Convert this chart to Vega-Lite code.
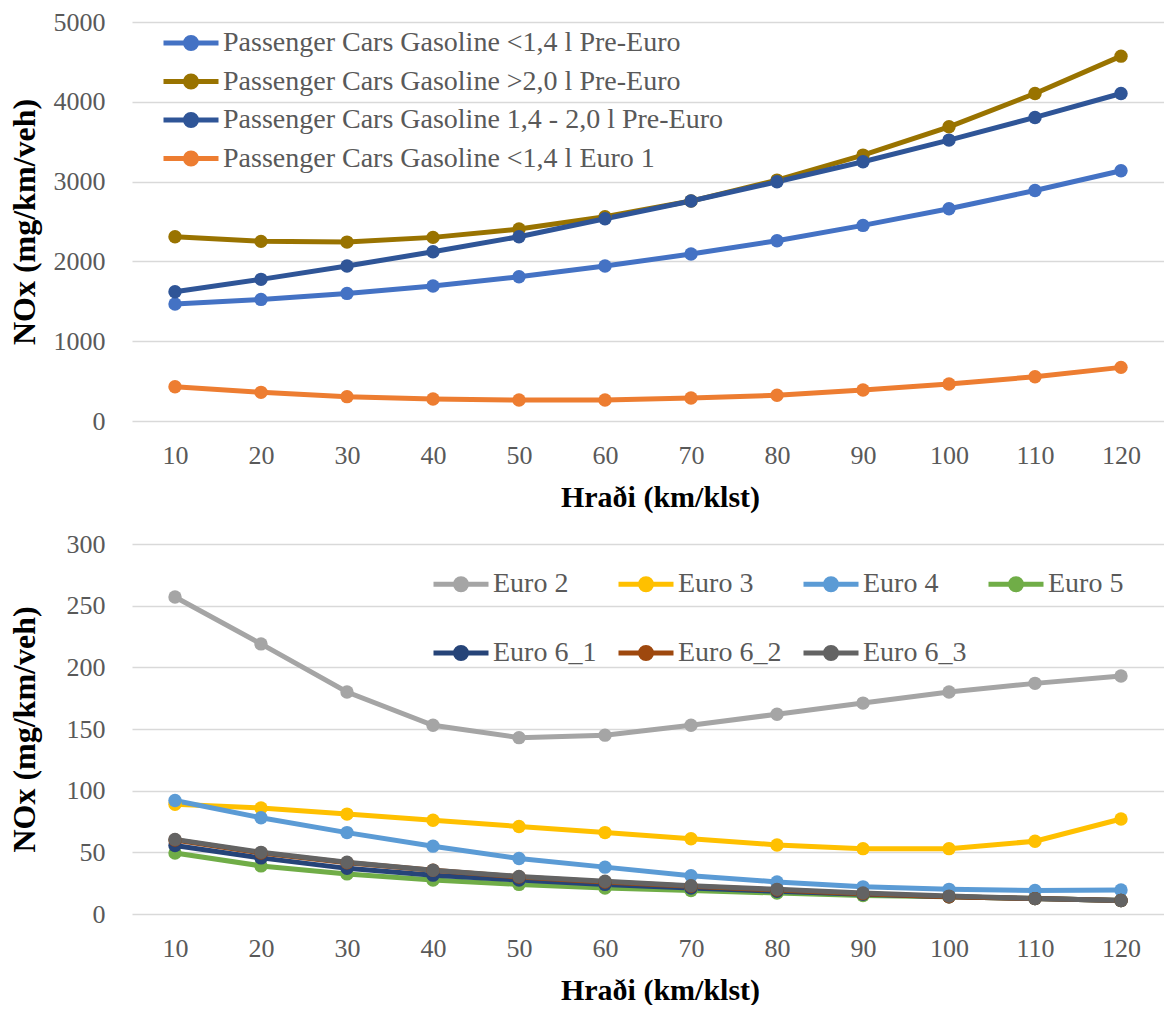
{
  "$schema": "https://vega.github.io/schema/vega-lite/v6.json",
  "padding": {"left": 8, "top": 9, "right": 0, "bottom": 0},
  "spacing": 19,
  "background": "white",
  "config": {
    "view": {"stroke": null},
    "font": "Liberation Serif",
    "axis": {
      "labelFont": "Liberation Serif",
      "labelFontSize": 26,
      "labelColor": "#595959",
      "titleFont": "Liberation Serif",
      "titleFontSize": 30,
      "titleFontWeight": "bold",
      "titleColor": "#000000",
      "ticks": false,
      "tickSize": 0,
      "domain": false,
      "format": "d"
    },
    "axisX": {"grid": false, "labelAngle": 0, "labelPadding": 21, "titlePadding": 14, "titleX": 528},
    "axisY": {"grid": true, "gridColor": "#D9D9D9", "gridWidth": 1.5, "labelPadding": 27, "titlePadding": 12, "minExtent": 79, "titleFontSize": 32},
    "legend": {
      "labelFont": "Liberation Serif",
      "labelFontSize": 28,
      "labelColor": "#595959",
      "symbolType": "M-1.25,0L4.25,0M0.95,0A0.55,0.55 0 1,0 2.05,0A0.55,0.55 0 1,0 0.95,0M1.17,0A0.33,0.33 0 1,0 1.83,0A0.33,0.33 0 1,0 1.17,0M1.39,0A0.11,0.11 0 1,0 1.61,0A0.11,0.11 0 1,0 1.39,0",
      "symbolSize": 400,
      "symbolStrokeWidth": 5,
      "labelOffset": 33,
      "title": null,
      "orient": "none",
      "labelLimit": 700
    }
  },
  "datasets": {
    "top": [
      {"speed": 10, "series": "Passenger Cars Gasoline <1,4 l Pre-Euro", "nox": 1466},
      {"speed": 20, "series": "Passenger Cars Gasoline <1,4 l Pre-Euro", "nox": 1524},
      {"speed": 30, "series": "Passenger Cars Gasoline <1,4 l Pre-Euro", "nox": 1599},
      {"speed": 40, "series": "Passenger Cars Gasoline <1,4 l Pre-Euro", "nox": 1691},
      {"speed": 50, "series": "Passenger Cars Gasoline <1,4 l Pre-Euro", "nox": 1808},
      {"speed": 60, "series": "Passenger Cars Gasoline <1,4 l Pre-Euro", "nox": 1942},
      {"speed": 70, "series": "Passenger Cars Gasoline <1,4 l Pre-Euro", "nox": 2092},
      {"speed": 80, "series": "Passenger Cars Gasoline <1,4 l Pre-Euro", "nox": 2259},
      {"speed": 90, "series": "Passenger Cars Gasoline <1,4 l Pre-Euro", "nox": 2451},
      {"speed": 100, "series": "Passenger Cars Gasoline <1,4 l Pre-Euro", "nox": 2660},
      {"speed": 110, "series": "Passenger Cars Gasoline <1,4 l Pre-Euro", "nox": 2889},
      {"speed": 120, "series": "Passenger Cars Gasoline <1,4 l Pre-Euro", "nox": 3136},
      {"speed": 10, "series": "Passenger Cars Gasoline >2,0 l Pre-Euro", "nox": 2309},
      {"speed": 20, "series": "Passenger Cars Gasoline >2,0 l Pre-Euro", "nox": 2251},
      {"speed": 30, "series": "Passenger Cars Gasoline >2,0 l Pre-Euro", "nox": 2242},
      {"speed": 40, "series": "Passenger Cars Gasoline >2,0 l Pre-Euro", "nox": 2301},
      {"speed": 50, "series": "Passenger Cars Gasoline >2,0 l Pre-Euro", "nox": 2405},
      {"speed": 60, "series": "Passenger Cars Gasoline >2,0 l Pre-Euro", "nox": 2559},
      {"speed": 70, "series": "Passenger Cars Gasoline >2,0 l Pre-Euro", "nox": 2756},
      {"speed": 80, "series": "Passenger Cars Gasoline >2,0 l Pre-Euro", "nox": 3019},
      {"speed": 90, "series": "Passenger Cars Gasoline >2,0 l Pre-Euro", "nox": 3332},
      {"speed": 100, "series": "Passenger Cars Gasoline >2,0 l Pre-Euro", "nox": 3687},
      {"speed": 110, "series": "Passenger Cars Gasoline >2,0 l Pre-Euro", "nox": 4104},
      {"speed": 120, "series": "Passenger Cars Gasoline >2,0 l Pre-Euro", "nox": 4572},
      {"speed": 10, "series": "Passenger Cars Gasoline 1,4 - 2,0 l Pre-Euro", "nox": 1620},
      {"speed": 20, "series": "Passenger Cars Gasoline 1,4 - 2,0 l Pre-Euro", "nox": 1775},
      {"speed": 30, "series": "Passenger Cars Gasoline 1,4 - 2,0 l Pre-Euro", "nox": 1942},
      {"speed": 40, "series": "Passenger Cars Gasoline 1,4 - 2,0 l Pre-Euro", "nox": 2121},
      {"speed": 50, "series": "Passenger Cars Gasoline 1,4 - 2,0 l Pre-Euro", "nox": 2309},
      {"speed": 60, "series": "Passenger Cars Gasoline 1,4 - 2,0 l Pre-Euro", "nox": 2534},
      {"speed": 70, "series": "Passenger Cars Gasoline 1,4 - 2,0 l Pre-Euro", "nox": 2756},
      {"speed": 80, "series": "Passenger Cars Gasoline 1,4 - 2,0 l Pre-Euro", "nox": 2998},
      {"speed": 90, "series": "Passenger Cars Gasoline 1,4 - 2,0 l Pre-Euro", "nox": 3248},
      {"speed": 100, "series": "Passenger Cars Gasoline 1,4 - 2,0 l Pre-Euro", "nox": 3520},
      {"speed": 110, "series": "Passenger Cars Gasoline 1,4 - 2,0 l Pre-Euro", "nox": 3804},
      {"speed": 120, "series": "Passenger Cars Gasoline 1,4 - 2,0 l Pre-Euro", "nox": 4104},
      {"speed": 10, "series": "Passenger Cars Gasoline <1,4 l Euro 1", "nox": 430},
      {"speed": 20, "series": "Passenger Cars Gasoline <1,4 l Euro 1", "nox": 359},
      {"speed": 30, "series": "Passenger Cars Gasoline <1,4 l Euro 1", "nox": 305},
      {"speed": 40, "series": "Passenger Cars Gasoline <1,4 l Euro 1", "nox": 276},
      {"speed": 50, "series": "Passenger Cars Gasoline <1,4 l Euro 1", "nox": 263},
      {"speed": 60, "series": "Passenger Cars Gasoline <1,4 l Euro 1", "nox": 263},
      {"speed": 70, "series": "Passenger Cars Gasoline <1,4 l Euro 1", "nox": 288},
      {"speed": 80, "series": "Passenger Cars Gasoline <1,4 l Euro 1", "nox": 322},
      {"speed": 90, "series": "Passenger Cars Gasoline <1,4 l Euro 1", "nox": 388},
      {"speed": 100, "series": "Passenger Cars Gasoline <1,4 l Euro 1", "nox": 463},
      {"speed": 110, "series": "Passenger Cars Gasoline <1,4 l Euro 1", "nox": 555},
      {"speed": 120, "series": "Passenger Cars Gasoline <1,4 l Euro 1", "nox": 672}
    ],
    "bottom": [
      {"speed": 10, "series": "Euro 2", "nox": 257},
      {"speed": 20, "series": "Euro 2", "nox": 219},
      {"speed": 30, "series": "Euro 2", "nox": 180},
      {"speed": 40, "series": "Euro 2", "nox": 153},
      {"speed": 50, "series": "Euro 2", "nox": 143},
      {"speed": 60, "series": "Euro 2", "nox": 145},
      {"speed": 70, "series": "Euro 2", "nox": 153},
      {"speed": 80, "series": "Euro 2", "nox": 162},
      {"speed": 90, "series": "Euro 2", "nox": 171},
      {"speed": 100, "series": "Euro 2", "nox": 180},
      {"speed": 110, "series": "Euro 2", "nox": 187},
      {"speed": 120, "series": "Euro 2", "nox": 193},
      {"speed": 10, "series": "Euro 3", "nox": 89},
      {"speed": 20, "series": "Euro 3", "nox": 86},
      {"speed": 30, "series": "Euro 3", "nox": 81},
      {"speed": 40, "series": "Euro 3", "nox": 76},
      {"speed": 50, "series": "Euro 3", "nox": 71},
      {"speed": 60, "series": "Euro 3", "nox": 66},
      {"speed": 70, "series": "Euro 3", "nox": 61},
      {"speed": 80, "series": "Euro 3", "nox": 56},
      {"speed": 90, "series": "Euro 3", "nox": 53},
      {"speed": 100, "series": "Euro 3", "nox": 53},
      {"speed": 110, "series": "Euro 3", "nox": 59},
      {"speed": 120, "series": "Euro 3", "nox": 77},
      {"speed": 10, "series": "Euro 4", "nox": 92},
      {"speed": 20, "series": "Euro 4", "nox": 78},
      {"speed": 30, "series": "Euro 4", "nox": 66},
      {"speed": 40, "series": "Euro 4", "nox": 55},
      {"speed": 50, "series": "Euro 4", "nox": 45},
      {"speed": 60, "series": "Euro 4", "nox": 38},
      {"speed": 70, "series": "Euro 4", "nox": 31},
      {"speed": 80, "series": "Euro 4", "nox": 26},
      {"speed": 90, "series": "Euro 4", "nox": 22},
      {"speed": 100, "series": "Euro 4", "nox": 20},
      {"speed": 110, "series": "Euro 4", "nox": 19},
      {"speed": 120, "series": "Euro 4", "nox": 19.5},
      {"speed": 10, "series": "Euro 5", "nox": 49.5},
      {"speed": 20, "series": "Euro 5", "nox": 39},
      {"speed": 30, "series": "Euro 5", "nox": 32.5},
      {"speed": 40, "series": "Euro 5", "nox": 27.5},
      {"speed": 50, "series": "Euro 5", "nox": 24},
      {"speed": 60, "series": "Euro 5", "nox": 21},
      {"speed": 70, "series": "Euro 5", "nox": 19},
      {"speed": 80, "series": "Euro 5", "nox": 17},
      {"speed": 90, "series": "Euro 5", "nox": 15},
      {"speed": 100, "series": "Euro 5", "nox": 14},
      {"speed": 110, "series": "Euro 5", "nox": 12.5},
      {"speed": 120, "series": "Euro 5", "nox": 11},
      {"speed": 10, "series": "Euro 6_1", "nox": 55.5},
      {"speed": 20, "series": "Euro 6_1", "nox": 45.5},
      {"speed": 30, "series": "Euro 6_1", "nox": 37},
      {"speed": 40, "series": "Euro 6_1", "nox": 31.5},
      {"speed": 50, "series": "Euro 6_1", "nox": 27.5},
      {"speed": 60, "series": "Euro 6_1", "nox": 24},
      {"speed": 70, "series": "Euro 6_1", "nox": 21},
      {"speed": 80, "series": "Euro 6_1", "nox": 18.5},
      {"speed": 90, "series": "Euro 6_1", "nox": 16},
      {"speed": 100, "series": "Euro 6_1", "nox": 14},
      {"speed": 110, "series": "Euro 6_1", "nox": 12.5},
      {"speed": 120, "series": "Euro 6_1", "nox": 11},
      {"speed": 10, "series": "Euro 6_2", "nox": 60},
      {"speed": 20, "series": "Euro 6_2", "nox": 49.5},
      {"speed": 30, "series": "Euro 6_2", "nox": 41.5},
      {"speed": 40, "series": "Euro 6_2", "nox": 35.5},
      {"speed": 50, "series": "Euro 6_2", "nox": 30},
      {"speed": 60, "series": "Euro 6_2", "nox": 26},
      {"speed": 70, "series": "Euro 6_2", "nox": 22.5},
      {"speed": 80, "series": "Euro 6_2", "nox": 19.5},
      {"speed": 90, "series": "Euro 6_2", "nox": 16.5},
      {"speed": 100, "series": "Euro 6_2", "nox": 14},
      {"speed": 110, "series": "Euro 6_2", "nox": 12.5},
      {"speed": 120, "series": "Euro 6_2", "nox": 11},
      {"speed": 10, "series": "Euro 6_3", "nox": 60.5},
      {"speed": 20, "series": "Euro 6_3", "nox": 50},
      {"speed": 30, "series": "Euro 6_3", "nox": 42},
      {"speed": 40, "series": "Euro 6_3", "nox": 35.5},
      {"speed": 50, "series": "Euro 6_3", "nox": 30.5},
      {"speed": 60, "series": "Euro 6_3", "nox": 26.5},
      {"speed": 70, "series": "Euro 6_3", "nox": 23},
      {"speed": 80, "series": "Euro 6_3", "nox": 20},
      {"speed": 90, "series": "Euro 6_3", "nox": 17},
      {"speed": 100, "series": "Euro 6_3", "nox": 14.5},
      {"speed": 110, "series": "Euro 6_3", "nox": 12.5},
      {"speed": 120, "series": "Euro 6_3", "nox": 11}
    ]
  },
  "vconcat": [
    {
      "width": 1032,
      "height": 399,
      "data": {"name": "top"},
      "mark": {"type": "line", "strokeWidth": 5, "point": {"filled": true, "size": 180}},
      "encoding": {
        "x": {"field": "speed", "type": "ordinal", "title": "Hraði (km/klst)", "scale": {"type": "point", "padding": 0.5}},
        "y": {"field": "nox", "type": "quantitative", "title": "NOx (mg/km/veh)", "scale": {"domain": [0, 5000]}, "axis": {"values": [0, 1000, 2000, 3000, 4000, 5000]}},
        "color": {
          "field": "series", "type": "nominal",
          "scale": {
            "domain": ["Passenger Cars Gasoline <1,4 l Pre-Euro", "Passenger Cars Gasoline >2,0 l Pre-Euro", "Passenger Cars Gasoline 1,4 - 2,0 l Pre-Euro", "Passenger Cars Gasoline <1,4 l Euro 1"],
            "range": ["#4472C4", "#997300", "#2F5597", "#ED7D31"]
          },
          "legend": {"legendX": 30, "legendY": 7, "rowPadding": 6.5}
        }
      }
    },
    {
      "width": 1032,
      "height": 370,
      "data": {"name": "bottom"},
      "mark": {"type": "line", "strokeWidth": 5, "point": {"filled": true, "size": 180}},
      "encoding": {
        "x": {"field": "speed", "type": "ordinal", "title": "Hraði (km/klst)", "scale": {"type": "point", "padding": 0.5}},
        "y": {"field": "nox", "type": "quantitative", "title": "NOx (mg/km/veh)", "scale": {"domain": [0, 300]}, "axis": {"values": [0, 50, 100, 150, 200, 250, 300]}},
        "color": {
          "field": "series", "type": "nominal",
          "scale": {
            "domain": ["Euro 2", "Euro 3", "Euro 4", "Euro 5", "Euro 6_1", "Euro 6_2", "Euro 6_3"],
            "range": ["#A5A5A5", "#FFC000", "#5B9BD5", "#70AD47", "#264478", "#9E480E", "#636363"]
          },
          "legend": {"legendX": 300, "legendY": 26, "columns": 4, "direction": "horizontal", "rowPadding": 37, "columnPadding": 11}
        }
      }
    }
  ],
  "resolve": {"scale": {"color": "independent", "x": "independent", "y": "independent"}, "legend": {"color": "independent"}}
}
